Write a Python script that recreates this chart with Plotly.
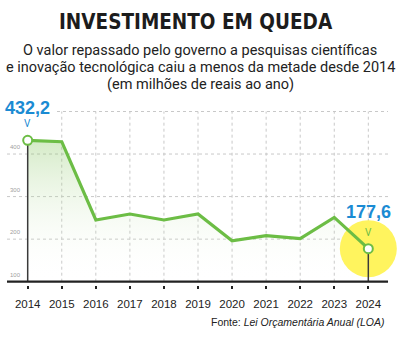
import plotly.graph_objects as go

YEARS = [2014, 2015, 2016, 2017, 2018, 2019, 2020, 2021, 2022, 2023, 2024]
VALUES = [432.2, 429, 245, 259, 245, 259, 196, 208, 201, 251, 177.6]
YTICKS = [100, 200, 300, 400, 500]
TITLE = "INVESTIMENTO EM QUEDA"
SUBTITLE = ["O valor repassado pelo governo a pesquisas científicas",
            "e inovação tecnológica caiu a menos da metade desde 2014",
            "(em milhões de reais ao ano)"]
SOURCE = "Fonte: <i>Lei Orçamentária Anual (LOA)</i>"

GREEN = "#6cbd45"
BLUE = "#1b8bd3"
YELLOW = "#fff45e"
GRID = "#c8c8c8"

W, H = 400, 337
T, B = 100, 52
XR = [2013.187, 2024.93]
YR = [92.2, 527]

def ypaper(py):
    return (H - B - py) / (H - T - B)

fig = go.Figure()

# baseline for the area fill
fig.add_trace(go.Scatter(x=YEARS, y=[YTICKS[0]] * len(YEARS), mode="lines",
                         line=dict(width=0), hoverinfo="skip", showlegend=False))
fig.add_trace(go.Scatter(x=YEARS, y=VALUES, mode="lines", line=dict(width=0),
                         fill="tonexty",
                         fillgradient=dict(type="vertical",
                                           colorscale=[[0, "rgba(255,255,255,0)"],
                                                       [1, "rgba(130,195,90,0.34)"]],
                                           start=YTICKS[0], stop=max(VALUES)),
                         hoverinfo="skip", showlegend=False))

# yellow highlight on last point
fig.add_trace(go.Scatter(x=[YEARS[-1]], y=[VALUES[-1]], mode="markers",
                         marker=dict(size=57, color=YELLOW, line=dict(width=0)),
                         hoverinfo="skip", showlegend=False))

# vertical pointer lines to the axis
for i in (0, -1):
    fig.add_trace(go.Scatter(x=[YEARS[i], YEARS[i]], y=[VALUES[i], YTICKS[0]],
                             mode="lines", line=dict(color="#3a3a3a", width=1.5),
                             hoverinfo="skip", showlegend=False))

# main line
fig.add_trace(go.Scatter(x=YEARS, y=VALUES, mode="lines",
                         line=dict(color=GREEN, width=3.2),
                         showlegend=False))
# endpoint markers
fig.add_trace(go.Scatter(x=[YEARS[0], YEARS[-1]], y=[VALUES[0], VALUES[-1]],
                         mode="markers",
                         marker=dict(size=9, color="white", line=dict(color=GREEN, width=2)),
                         showlegend=False))

shapes = []
x_left = XR[0] + 7 / 34.06
x_right = XR[0] + 388 / 34.06
for yv in YTICKS[1:]:
    x0 = x_left if yv < YTICKS[-1] else YEARS[0] + 0.86
    shapes.append(dict(type="line", xref="x", yref="y", x0=x0, x1=x_right, y0=yv, y1=yv,
                       line=dict(color=GRID, width=1, dash="dot"), layer="below"))
for xv in YEARS[1:]:
    shapes.append(dict(type="line", xref="x", yref="y", x0=xv, x1=xv, y0=YTICKS[0], y1=YTICKS[-1],
                       line=dict(color=GRID, width=1, dash="dot"), layer="below"))
# axis line
shapes.append(dict(type="line", xref="x", yref="y", x0=x_left, x1=x_right,
                   y0=YTICKS[0], y1=YTICKS[0], line=dict(color="#222", width=2.2), layer="above"))

annotations = []
for yv in YTICKS[:-1]:
    annotations.append(dict(x=8 / W, xref="paper", xanchor="left", y=yv, yref="y",
                            yshift=7, yanchor="middle", text=str(yv), showarrow=False,
                            font=dict(size=6, color="#a0a0a0", family="Liberation Sans")))

def fmt(v):
    return f"{v:.1f}".replace(".", ",")

for i, (ls, vs, vc) in [(0, (32, 17, BLUE)), (-1, (36.5, 16.5, GREEN))]:
    annotations.append(dict(x=YEARS[i], y=VALUES[i], xref="x", yref="y", yshift=ls,
                            text="<b>" + fmt(VALUES[i]) + "</b>", showarrow=False,
                            font=dict(size=18, color=BLUE, family="Liberation Sans")))
    annotations.append(dict(x=YEARS[i], y=VALUES[i], xref="x", yref="y", yshift=vs,
                            text="V", showarrow=False,
                            font=dict(size=10, color=vc, family="Roboto")))

annotations.append(dict(x=0.49, y=ypaper(22), xref="paper", yref="paper", text="<b>" + TITLE + "</b>",
                        showarrow=False, yanchor="middle",
                        font=dict(size=20.5, color="#1c1c1c", family="DejaVu Sans Condensed")))
for k, line in enumerate(SUBTITLE):
    annotations.append(dict(x=0.5, y=ypaper(50 + 17.5 * k), xref="paper", yref="paper", text=line,
                            showarrow=False, yanchor="middle",
                            font=dict(size=14.5, color="#222", family="Roboto")))
annotations.append(dict(x=387 / W, y=ypaper(322), xref="paper", yref="paper", text=SOURCE,
                        showarrow=False, xanchor="right", yanchor="middle",
                        font=dict(size=10.5, color="#222", family="Liberation Sans")))

fig.update_layout(
    width=W, height=H, margin=dict(l=0, r=0, t=T, b=B),
    paper_bgcolor="white", plot_bgcolor="white",
    shapes=shapes, annotations=annotations,
    xaxis=dict(range=XR, showgrid=False, zeroline=False, showline=False,
               tickvals=YEARS, ticktext=[str(y) for y in YEARS],
               ticks="outside", ticklen=3, tickwidth=1.5, tickcolor="#222",
               ticklabelstandoff=5,
               tickfont=dict(size=11.5, color="#222", family="Liberation Sans")),
    yaxis=dict(range=YR, showgrid=False, zeroline=False, showline=False,
               showticklabels=False),
    showlegend=False,
)

fig.write_html("out.html")
